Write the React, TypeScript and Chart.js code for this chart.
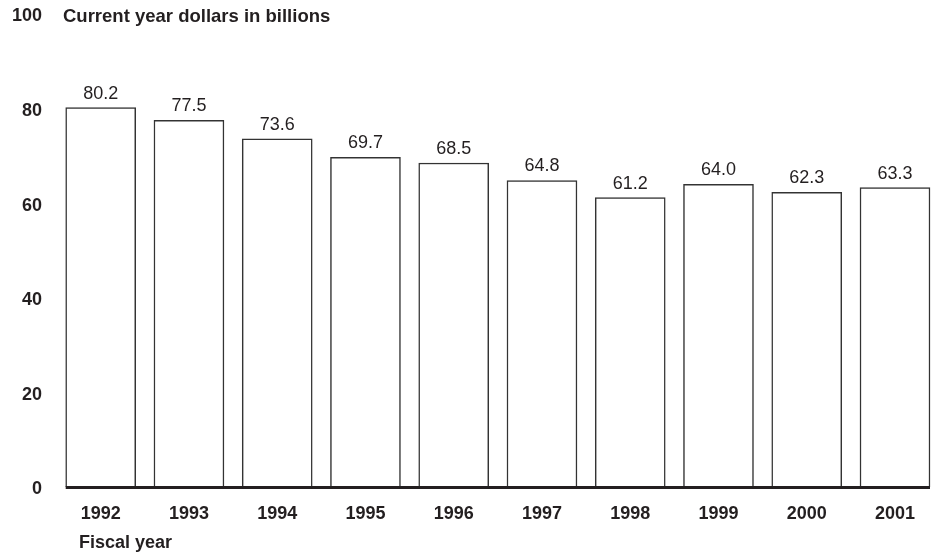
import React, { useEffect, useRef } from "react";
import { Chart, registerables } from "chart.js";

Chart.register(...registerables);

const categories = ["1992", "1993", "1994", "1995", "1996", "1997", "1998", "1999", "2000", "2001"];
const values = [80.2, 77.5, 73.6, 69.7, 68.5, 64.8, 61.2, 64.0, 62.3, 63.3];
const valueLabels = ["80.2", "77.5", "73.6", "69.7", "68.5", "64.8", "61.2", "64.0", "62.3", "63.3"];
const yTicks = [0, 20, 40, 60, 80, 100];
const yTitle = "Current year dollars in billions";
const xTitle = "Fiscal year";

const FONT = '"Liberation Sans", Arial, Helvetica, sans-serif';
const TEXT = "#231f20";

const decorPlugin = {
  id: "decor",
  afterDatasetsDraw(chart: any) {
    const ctx = chart.ctx;
    const meta = chart.getDatasetMeta(0);
    const yScale = chart.scales.y;
    const bars = meta.data;
    const y0 = yScale.getPixelForValue(0);
    ctx.save();
    // value labels
    ctx.font = `18px ${FONT}`;
    ctx.fillStyle = TEXT;
    ctx.textAlign = "center";
    ctx.textBaseline = "alphabetic";
    bars.forEach((b: any, i: number) => {
      ctx.fillText(valueLabels[i], b.x, b.y - 9);
    });
    // base axis line
    const first = bars[0];
    const last = bars[bars.length - 1];
    ctx.strokeStyle = "#231f20";
    ctx.lineWidth = 3;
    ctx.beginPath();
    ctx.moveTo(first.x - first.width / 2, y0 + 0.5);
    ctx.lineTo(last.x + last.width / 2, y0 + 0.5);
    ctx.stroke();
    // titles
    ctx.font = `bold 18.5px ${FONT}`;
    ctx.textAlign = "left";
    ctx.textBaseline = "middle";
    ctx.fillText(yTitle, 63, yScale.getPixelForValue(100) + 3);
    ctx.font = `bold 18px ${FONT}`;
    ctx.fillText(xTitle, 79, 543);
    ctx.restore();
  },
};

export default function App() {
  const ref = useRef<HTMLCanvasElement | null>(null);
  useEffect(() => {
    if (!ref.current) return;
    const chart = new Chart(ref.current, {
      type: "bar",
      data: {
        labels: categories,
        datasets: [
          {
            data: values,
            backgroundColor: "#ffffff",
            borderColor: "#333333",
            borderWidth: 1.5,
            barThickness: 70,
            clip: false as any,
          },
        ],
      },
      options: {
        animation: false,
        responsive: false,
        devicePixelRatio: 1,
        layout: { padding: { top: 14, right: 40, bottom: 0, left: 0 } },
        plugins: {
          legend: { display: false },
          tooltip: { enabled: false },
          title: { display: false },
        },
        scales: {
          x: {
            type: "category",
            offset: false,
            grid: { display: false, drawTicks: false },
            border: { display: false },
            ticks: {
              padding: 16,
              color: TEXT,
              font: { family: FONT, size: 18, weight: "bold" },
              maxRotation: 0,
              autoSkip: false,
            },
            afterFit(scale: any) {
              scale.height = 67;
            },
          },
          y: {
            min: 0,
            max: 100,
            afterBuildTicks(scale: any) {
              scale.ticks = yTicks.map((v) => ({ value: v }));
            },
            grid: { display: false, drawTicks: false },
            border: { display: false },
            ticks: {
              padding: 58.7,
              labelOffset: 2.5,
              color: TEXT,
              font: { family: FONT, size: 18, weight: "bold" },
            },
            afterFit(scale: any) {
              scale.width = 100.7;
              scale.paddingTop = 0;
              scale.paddingBottom = 0;
            },
          },
        },
      },
      plugins: [decorPlugin],
    });
    return () => chart.destroy();
  }, []);
  return (
    <div style={{ position: "absolute", left: 0, top: 0, width: 935, height: 554, background: "#fff" }}>
      <canvas ref={ref} width={935} height={554} />
    </div>
  );
}
